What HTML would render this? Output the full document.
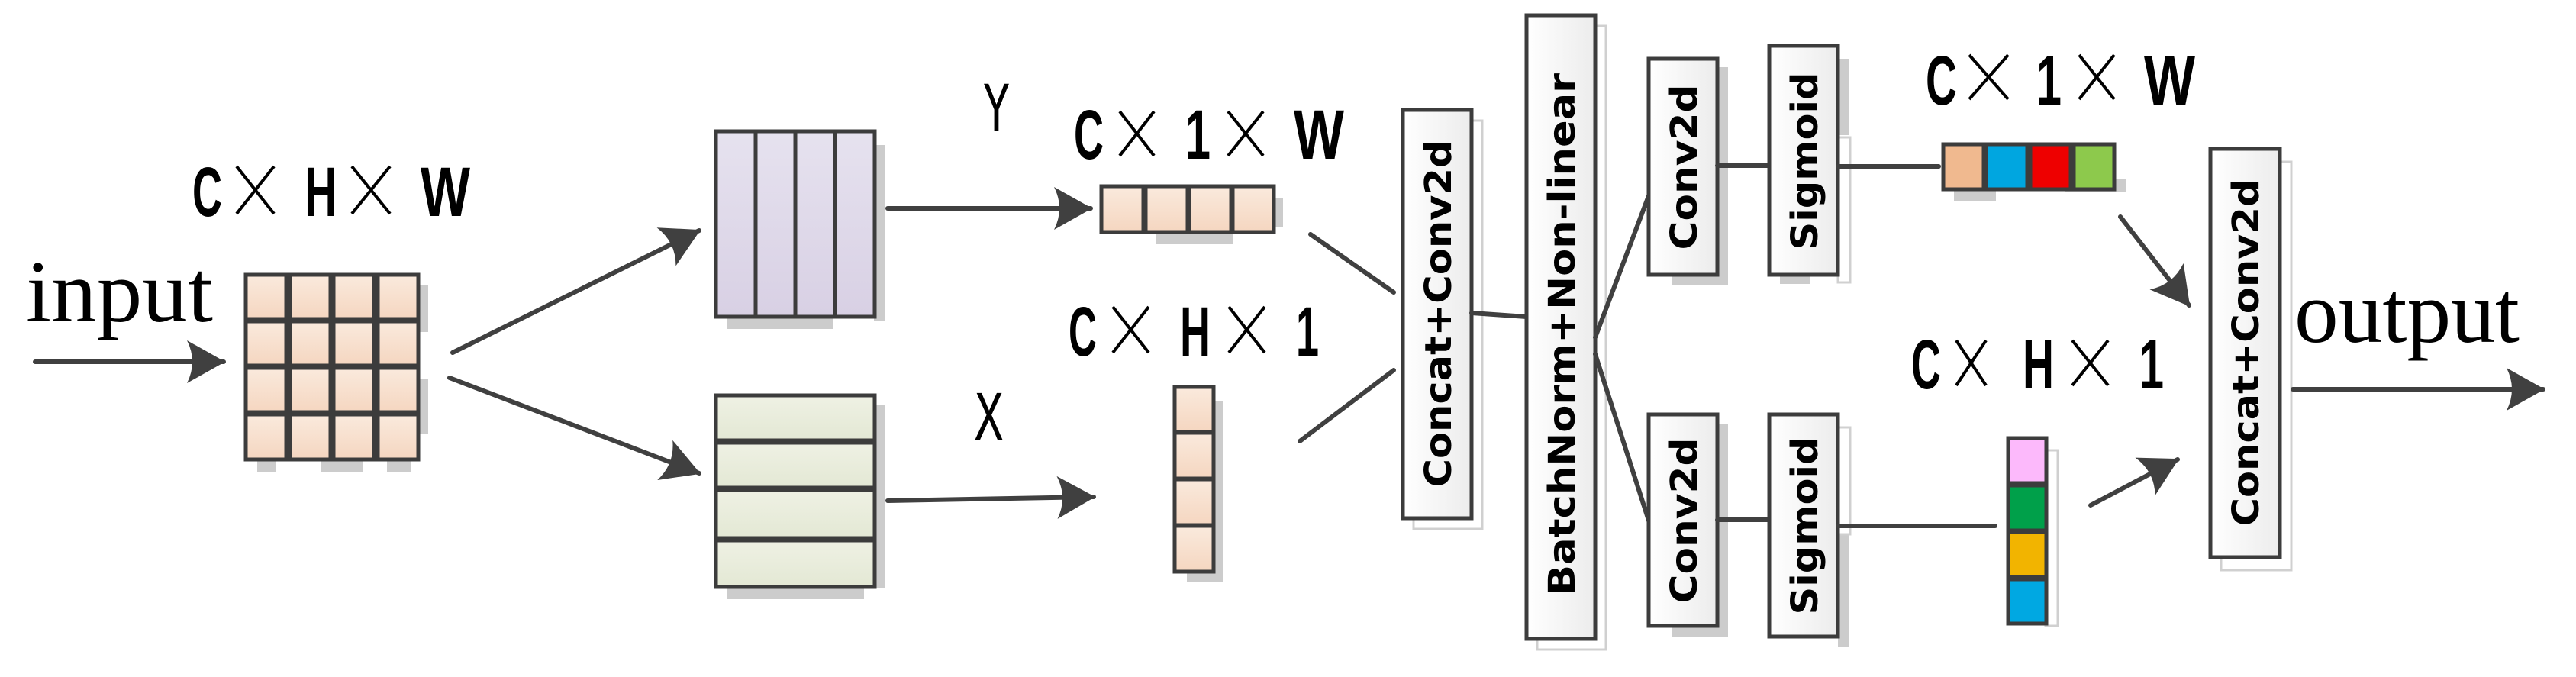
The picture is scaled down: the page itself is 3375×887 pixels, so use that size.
<!DOCTYPE html>
<html><head><meta charset="utf-8"><style>
html,body{margin:0;padding:0;background:#fff;}
svg{display:block;}
.lbl{font-family:"Liberation Sans",sans-serif;font-weight:bold;fill:#000;font-size:92px;}
.rot{font-family:"DejaVu Sans","Liberation Sans",sans-serif;font-weight:bold;fill:#000;font-size:48px;}
.ln{stroke:#404040;stroke-width:6;fill:none;stroke-linecap:round;}
.cell{stroke:#3c3c3c;stroke-width:5;}
.box{fill:url(#gw);stroke:#3c3c3c;stroke-width:5;}
.sh{fill:#cccccc;}
.x{stroke:#000;stroke-width:4;}
</style></head><body>
<svg width="3375" height="887" viewBox="0 0 3375 887" xmlns="http://www.w3.org/2000/svg">
<defs>
<linearGradient id="gp" x1="0" y1="0" x2="0" y2="1"><stop offset="0" stop-color="#faeadd"/><stop offset="1" stop-color="#f5d6c0"/></linearGradient>
<linearGradient id="gv" x1="0" y1="0" x2="0" y2="1"><stop offset="0" stop-color="#e6e2ef"/><stop offset="1" stop-color="#d8d0e4"/></linearGradient>
<linearGradient id="gg" x1="0" y1="0" x2="0" y2="1"><stop offset="0" stop-color="#eff1e4"/><stop offset="1" stop-color="#e3e8d4"/></linearGradient>
<linearGradient id="gw" x1="0" y1="0" x2="1" y2="0"><stop offset="0" stop-color="#ffffff"/><stop offset="1" stop-color="#ececec"/></linearGradient>
<marker id="ah" viewBox="0 0 50 56" refX="48" refY="28" markerWidth="50" markerHeight="56" markerUnits="userSpaceOnUse" orient="auto">
<path d="M0,0 L50,28 L0,56 Q14,28 0,0 Z" fill="#404040"/></marker>
</defs>

<!-- input -->
<text x="34" y="421" font-family="Liberation Serif,serif" font-size="116" textLength="245" lengthAdjust="spacingAndGlyphs">input</text>
<line class="ln" x1="46" y1="474" x2="293" y2="474" marker-end="url(#ah)"/>

<!-- label 1 -->
<text class="lbl" x="252" y="283" textLength="39" lengthAdjust="spacingAndGlyphs">C</text>
<line class="x" x1="310" y1="218" x2="359" y2="280"/><line class="x" x1="359" y1="218" x2="310" y2="280"/>
<text class="lbl" x="399" y="283" textLength="43" lengthAdjust="spacingAndGlyphs">H</text>
<line class="x" x1="461" y1="218" x2="511" y2="280"/><line class="x" x1="511" y1="218" x2="461" y2="280"/>
<text class="lbl" x="551" y="283" textLength="65" lengthAdjust="spacingAndGlyphs">W</text>

<!-- matrix -->
<rect class="sh" x="545" y="373" width="16" height="62"/><rect class="sh" x="545" y="497" width="16" height="72"/>
<rect class="sh" x="337" y="603" width="25" height="15"/><rect class="sh" x="421" y="603" width="55" height="15"/><rect class="sh" x="507" y="603" width="32" height="15"/>
<g class="cell" fill="url(#gp)">
<rect x="322" y="360" width="53" height="58"/><rect x="380" y="360" width="53" height="58"/><rect x="437" y="360" width="53" height="58"/><rect x="495" y="360" width="53" height="58"/>
<rect x="322" y="421" width="53" height="58"/><rect x="380" y="421" width="53" height="58"/><rect x="437" y="421" width="53" height="58"/><rect x="495" y="421" width="53" height="58"/>
<rect x="322" y="482" width="53" height="58"/><rect x="380" y="482" width="53" height="58"/><rect x="437" y="482" width="53" height="58"/><rect x="495" y="482" width="53" height="58"/>
<rect x="322" y="543" width="53" height="59"/><rect x="380" y="543" width="53" height="59"/><rect x="437" y="543" width="53" height="59"/><rect x="495" y="543" width="53" height="59"/>
</g>

<line class="ln" x1="593" y1="462" x2="916" y2="302" marker-end="url(#ah)"/>
<line class="ln" x1="589" y1="495" x2="916" y2="620" marker-end="url(#ah)"/>

<!-- purple -->
<rect class="sh" x="1145" y="190" width="14" height="230"/><rect class="sh" x="952" y="415" width="140" height="16"/>
<g class="cell" fill="url(#gv)">
<rect x="938" y="172" width="52" height="243"/><rect x="990" y="172" width="52" height="243"/><rect x="1042" y="172" width="52" height="243"/><rect x="1094" y="172" width="52" height="243"/>
</g>
<!-- green -->
<rect class="sh" x="1145" y="530" width="14" height="240"/><rect class="sh" x="952" y="769" width="180" height="16"/>
<g class="cell" fill="url(#gg)">
<rect x="938" y="518" width="208" height="59"/><rect x="938" y="580" width="208" height="59"/><rect x="938" y="642" width="208" height="63"/><rect x="938" y="708" width="208" height="61"/>
</g>

<line class="ln" x1="1163" y1="273" x2="1429" y2="273" marker-end="url(#ah)"/>
<line class="ln" x1="1163" y1="656" x2="1433" y2="651" marker-end="url(#ah)"/>
<text x="1288" y="171" font-family="DejaVu Sans Mono,monospace" font-size="84" textLength="35" lengthAdjust="spacingAndGlyphs">Y</text>
<text x="1277" y="576" font-family="DejaVu Sans Mono,monospace" font-size="84" textLength="37" lengthAdjust="spacingAndGlyphs">X</text>

<!-- label 2 -->
<text class="lbl" x="1407" y="208" textLength="39" lengthAdjust="spacingAndGlyphs">C</text>
<line class="x" x1="1467" y1="146" x2="1512" y2="204"/><line class="x" x1="1512" y1="146" x2="1467" y2="204"/>
<text class="lbl" x="1553" y="208" textLength="33" lengthAdjust="spacingAndGlyphs">1</text>
<line class="x" x1="1609" y1="146" x2="1655" y2="204"/><line class="x" x1="1655" y1="146" x2="1609" y2="204"/>
<text class="lbl" x="1695" y="208" textLength="66" lengthAdjust="spacingAndGlyphs">W</text>

<!-- row boxes -->
<rect class="sh" x="1667" y="260" width="14" height="38"/><rect class="sh" x="1515" y="304" width="100" height="16"/>
<g class="cell" fill="url(#gp)">
<rect x="1443" y="244" width="55" height="60"/><rect x="1501" y="244" width="55" height="60"/><rect x="1558" y="244" width="55" height="60"/><rect x="1615" y="244" width="54" height="60"/>
</g>

<!-- label 3 -->
<text class="lbl" x="1400" y="466" textLength="37" lengthAdjust="spacingAndGlyphs">C</text>
<line class="x" x1="1458" y1="402" x2="1505" y2="462"/><line class="x" x1="1505" y1="402" x2="1458" y2="462"/>
<text class="lbl" x="1546" y="466" textLength="40" lengthAdjust="spacingAndGlyphs">H</text>
<line class="x" x1="1610" y1="402" x2="1657" y2="462"/><line class="x" x1="1657" y1="402" x2="1610" y2="462"/>
<text class="lbl" x="1698" y="466" textLength="30" lengthAdjust="spacingAndGlyphs">1</text>

<!-- column boxes -->
<rect class="sh" x="1588" y="525" width="14" height="230"/><rect class="sh" x="1555" y="749" width="47" height="14"/>
<g class="cell" fill="url(#gp)">
<rect x="1539" y="507" width="51" height="59"/><rect x="1539" y="567" width="51" height="60"/><rect x="1539" y="628" width="51" height="60"/><rect x="1539" y="689" width="51" height="60"/>
</g>

<line class="ln" x1="1717" y1="307" x2="1826" y2="383"/>
<line class="ln" x1="1703" y1="578" x2="1826" y2="485"/>

<!-- concat 1 -->
<rect class="sh" x="1852" y="158" width="90" height="535" fill="none" style="fill:none;stroke:#d0d0d0;stroke-width:3"/>
<rect class="box" x="1838" y="144" width="90" height="535"/>
<text class="rot" transform="translate(1885,411) rotate(-90)" text-anchor="middle" dominant-baseline="central" textLength="455" lengthAdjust="spacingAndGlyphs">Concat+Conv2d</text>
<line class="ln" x1="1928" y1="410" x2="2000" y2="415"/>

<!-- BN -->
<rect x="2014" y="34" width="90" height="817" style="fill:none;stroke:#d0d0d0;stroke-width:3"/>
<rect class="box" x="2000" y="20" width="90" height="817"/>
<text class="rot" transform="translate(2047,438) rotate(-90)" text-anchor="middle" dominant-baseline="central" textLength="684" lengthAdjust="spacingAndGlyphs">BatchNorm+Non-linear</text>

<line class="ln" x1="2090" y1="442" x2="2161" y2="254"/>
<line class="ln" x1="2090" y1="464" x2="2161" y2="685"/>

<!-- conv2d top/bottom -->
<rect class="sh" x="2250" y="88" width="14" height="286"/><rect class="sh" x="2190" y="360" width="74" height="14"/>
<rect class="box" x="2160" y="77" width="90" height="283"/>
<text class="rot" transform="translate(2207,219) rotate(-90)" text-anchor="middle" dominant-baseline="central" textLength="217" lengthAdjust="spacingAndGlyphs">Conv2d</text>
<rect class="sh" x="2250" y="555" width="14" height="279"/><rect class="sh" x="2190" y="820" width="74" height="14"/>
<rect class="box" x="2160" y="543" width="90" height="277"/>
<text class="rot" transform="translate(2207,682) rotate(-90)" text-anchor="middle" dominant-baseline="central" textLength="217" lengthAdjust="spacingAndGlyphs">Conv2d</text>

<line class="ln" x1="2250" y1="217" x2="2318" y2="217"/>
<line class="ln" x1="2250" y1="681" x2="2318" y2="681"/>

<!-- sigmoid -->
<rect class="sh" x="2408" y="77" width="14" height="100"/><rect x="2408" y="180" width="16" height="190" style="fill:none;stroke:#d0d0d0;stroke-width:3"/><rect class="sh" x="2332" y="360" width="40" height="12"/>
<rect class="box" x="2318" y="60" width="90" height="300"/>
<text class="rot" transform="translate(2365,211) rotate(-90)" text-anchor="middle" dominant-baseline="central" textLength="233" lengthAdjust="spacingAndGlyphs">Sigmoid</text>
<rect class="sh" x="2408" y="700" width="14" height="148"/><rect x="2408" y="560" width="16" height="140" style="fill:none;stroke:#d0d0d0;stroke-width:3"/>
<rect class="box" x="2318" y="543" width="90" height="291"/>
<text class="rot" transform="translate(2365,689) rotate(-90)" text-anchor="middle" dominant-baseline="central" textLength="233" lengthAdjust="spacingAndGlyphs">Sigmoid</text>

<line class="ln" x1="2408" y1="218" x2="2540" y2="218"/>
<line class="ln" x1="2408" y1="689" x2="2614" y2="689"/>

<!-- label 4 -->
<text class="lbl" x="2523" y="137" textLength="41" lengthAdjust="spacingAndGlyphs">C</text>
<line class="x" x1="2580" y1="72" x2="2631" y2="130"/><line class="x" x1="2631" y1="72" x2="2580" y2="130"/>
<text class="lbl" x="2668" y="137" textLength="33" lengthAdjust="spacingAndGlyphs">1</text>
<line class="x" x1="2724" y1="72" x2="2770" y2="130"/><line class="x" x1="2770" y1="72" x2="2724" y2="130"/>
<text class="lbl" x="2809" y="137" textLength="67" lengthAdjust="spacingAndGlyphs">W</text>

<!-- colored row -->
<rect class="sh" x="2560" y="248" width="55" height="16"/><rect class="sh" x="2705" y="235" width="80" height="16"/>
<g class="cell">
<rect x="2546" y="189" width="53" height="59" fill="#f0b98f"/><rect x="2602" y="189" width="54" height="59" fill="#00a6e0"/><rect x="2660" y="189" width="53" height="59" fill="#ee0000"/><rect x="2717" y="189" width="53" height="59" fill="#8dc94c"/>
</g>

<!-- label 5 -->
<text class="lbl" x="2504" y="509" textLength="39" lengthAdjust="spacingAndGlyphs">C</text>
<line class="x" x1="2563" y1="446" x2="2602" y2="505"/><line class="x" x1="2602" y1="446" x2="2563" y2="505"/>
<text class="lbl" x="2650" y="509" textLength="41" lengthAdjust="spacingAndGlyphs">H</text>
<line class="x" x1="2715" y1="446" x2="2762" y2="505"/><line class="x" x1="2762" y1="446" x2="2715" y2="505"/>
<text class="lbl" x="2803" y="509" textLength="32" lengthAdjust="spacingAndGlyphs">1</text>

<!-- colored column -->
<rect x="2680" y="590" width="16" height="230" style="fill:none;stroke:#d0d0d0;stroke-width:3"/>
<g class="cell">
<rect x="2631" y="574" width="50" height="59" fill="#fcb9fb"/><rect x="2631" y="636" width="50" height="59" fill="#00a04a"/><rect x="2631" y="697" width="50" height="59" fill="#f2b400"/><rect x="2631" y="759" width="50" height="58" fill="#00a8e2"/>
</g>

<line class="ln" x1="2778" y1="284" x2="2868" y2="400" marker-end="url(#ah)"/>
<line class="ln" x1="2739" y1="662" x2="2853" y2="602" marker-end="url(#ah)"/>

<!-- concat 2 -->
<rect x="2910" y="212" width="92" height="535" style="fill:none;stroke:#d0d0d0;stroke-width:3"/>
<rect class="box" x="2896" y="195" width="91" height="535"/>
<text class="rot" transform="translate(2943,462) rotate(-90)" text-anchor="middle" dominant-baseline="central" textLength="455" lengthAdjust="spacingAndGlyphs">Concat+Conv2d</text>

<text x="3006" y="448" font-family="Liberation Serif,serif" font-size="116" textLength="295" lengthAdjust="spacingAndGlyphs">output</text>
<line class="ln" x1="3004" y1="510" x2="3332" y2="510" marker-end="url(#ah)"/>
</svg>
</body></html>
